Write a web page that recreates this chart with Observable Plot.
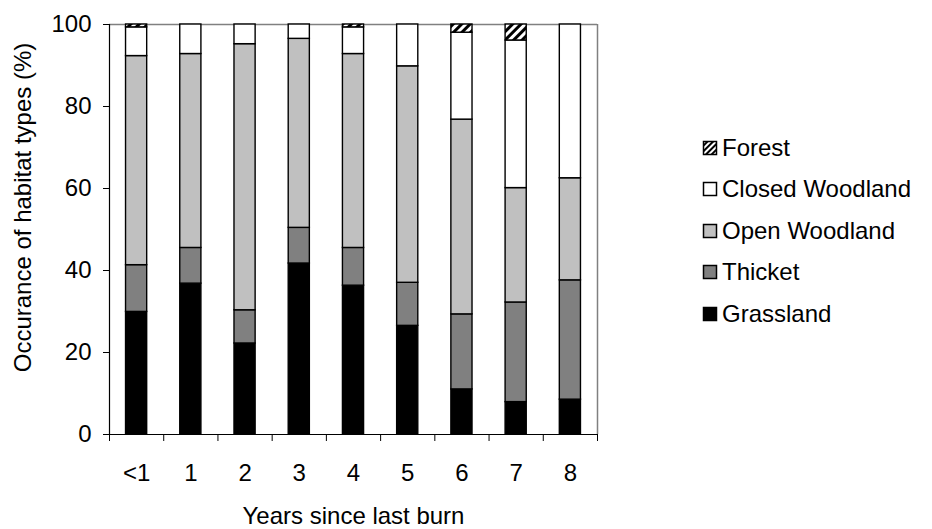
<!DOCTYPE html>
<html>
<head>
<meta charset="utf-8">
<script src="https://cdn.jsdelivr.net/npm/d3@7"></script>
<script src="https://cdn.jsdelivr.net/npm/@observablehq/plot@0.6"></script>
<style>
  html, body { margin: 0; padding: 0; background: #fff; }
  #wrap { position: relative; width: 932px; height: 529px; font-family: "Liberation Sans", Arial, sans-serif; }
  #legend { position: absolute; left: 702px; top: 127px; font-size: 24px; color: #000; }
  .item { display: flex; align-items: center; height: 41.5px; }
  .item svg { margin-right: 4px; }
</style>
</head>
<body>
<div id="wrap"><div id="legend"></div></div>
<script>
const categories = ["<1", "1", "2", "3", "4", "5", "6", "7", "8"];
const types = ["Grassland", "Thicket", "Open Woodland", "Closed Woodland", "Forest"];
const grassland      = [29.9, 36.8, 22.2, 41.7, 36.3, 26.5, 11.0,  7.9,  8.5];
const thicket        = [11.4,  8.7,  8.1,  8.7,  9.2, 10.5, 18.3, 24.3, 29.1];
const openWoodland   = [51.0, 47.3, 64.9, 46.1, 47.3, 52.8, 47.5, 27.9, 24.9];
const closedWoodland = [ 7.0,  7.2,  4.8,  3.5,  6.5, 10.2, 21.2, 36.0, 37.5];
const forest         = [ 0.7,  0.0,  0.0,  0.0,  0.7,  0.0,  2.0,  3.9,  0.0];
const yTicks = [0, 20, 40, 60, 80, 100];
const fills = ["#000000", "#808080", "#c0c0c0", "#ffffff", "url(#hatch)"];
const yTitle = "Occurance of habitat types (%)";
const xTitle = "Years since last burn";

const series = [grassland, thicket, openWoodland, closedWoodland, forest];
const data = [];
categories.forEach((c, i) => {
  types.forEach((t, k) => {
    data.push({cat: c, idx: i, type: t, value: series[k][i]});
  });
});

const W = 932, H = 529;
const chart = Plot.plot({
  width: W,
  height: H,
  marginLeft: 109,
  marginRight: 335,
  marginTop: 24,
  marginBottom: 95,
  style: {fontFamily: "'Liberation Sans', Arial, sans-serif", fontSize: "24px", background: "white", color: "black"},
  x: {type: "linear", domain: [0, categories.length]},
  y: {domain: [0, 100]},
  color: {type: "ordinal", domain: types, range: fills},
  marks: [
    Plot.ruleY([100], {stroke: "#808080", strokeWidth: 1.5}),
    Plot.ruleX([categories.length], {stroke: "#808080", strokeWidth: 1.5}),
    Plot.rectY(data, {
      x1: d => d.idx + 0.305,
      x2: d => d.idx + 0.695,
      y: "value",
      fill: "type",
      order: types,
      stroke: "black",
      strokeWidth: 1.4
    }),
    Plot.ruleX([0], {stroke: "black", strokeWidth: 1.2}),
    Plot.ruleY([0], {stroke: "black", strokeWidth: 1.2}),
    Plot.axisY({
      ticks: yTicks, tickSize: 6, tickPadding: 12, fontSize: 24, label: null
    }),
    Plot.text([yTitle], {
      frameAnchor: "left", rotate: -90, textAnchor: "middle", lineAnchor: "middle",
      dx: -86, dy: -22, fontSize: 24, fill: "black"
    }),
    Plot.axisX({
      ticks: d3.range(0, categories.length + 1), tickSize: 7, tickFormat: () => "", label: null
    }),
    Plot.axisX({
      ticks: d3.range(0, categories.length).map(i => i + 0.5),
      tickFormat: v => categories[Math.round(v - 0.5)],
      tickSize: 0, tickPadding: 29, fontSize: 24,
      label: xTitle, labelAnchor: "center", labelArrow: "none", labelOffset: 89
    })
  ]
});

// hatch pattern for Forest
const ns = "http://www.w3.org/2000/svg";
const defs = document.createElementNS(ns, "defs");
defs.innerHTML = `<pattern id="hatch" patternUnits="userSpaceOnUse" width="6" height="6" patternTransform="rotate(45)">
  <rect width="6" height="6" fill="white"/><rect width="3" height="6" fill="black"/></pattern>`;
chart.insertBefore(defs, chart.firstChild);

document.getElementById("wrap").insertBefore(chart, document.getElementById("legend"));

// legend: top to bottom in reverse stacking order
const legend = document.getElementById("legend");
[...types].reverse().forEach(t => {
  const k = types.indexOf(t);
  const item = document.createElement("div");
  item.className = "item";
  const f = fills[k] === "url(#hatch)" ? `url(#hatchL${k})` : fills[k];
  item.innerHTML = `<svg width="16" height="16"><defs><pattern id="hatchL${k}" patternUnits="userSpaceOnUse" width="4" height="4" patternTransform="rotate(45)"><rect width="4" height="4" fill="white"/><rect width="2" height="4" fill="black"/></pattern></defs><rect x="1.5" y="1.5" width="13" height="13" fill="${f}" stroke="black" stroke-width="1.5"/></svg><span>${t}</span>`;
  legend.appendChild(item);
});
</script>
</body>
</html>
